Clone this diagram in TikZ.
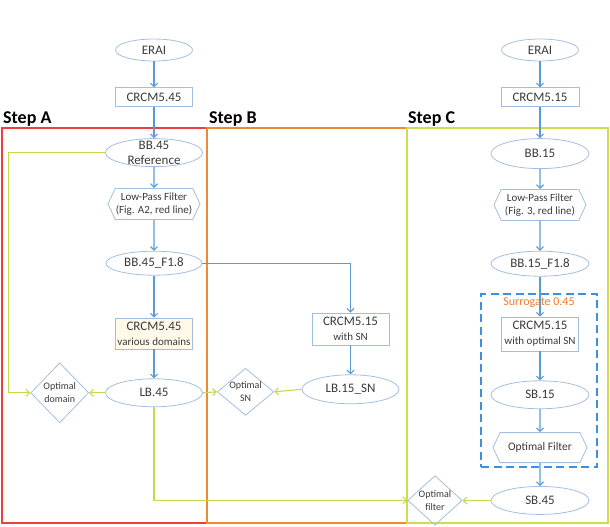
\documentclass[tikz,border=0pt]{standalone}
\usepackage{fontspec}
\setmainfont{Carlito}
\usetikzlibrary{positioning, calc, arrows.meta, shapes.geometric, shapes.symbols}

\definecolor{nodeline}{HTML}{A3BFDF}
\definecolor{flowblue}{HTML}{5B9BD5}
\definecolor{limeline}{HTML}{C8D84A}
\definecolor{framered}{HTML}{EE3E3E}
\definecolor{frameorange}{HTML}{EE8A36}
\definecolor{framelime}{HTML}{D0DC50}
\definecolor{dashblue}{HTML}{3F8FE0}
\definecolor{creamfill}{HTML}{FFF9EA}
\definecolor{txtgray}{HTML}{3A3A3A}
\definecolor{surrorange}{HTML}{ED7D31}

\begin{document}
\begin{tikzpicture}[
  x=1pt, y=1pt,
  >={Straight Barb[length=3.5pt, width=7pt]},
  font=\fontsize{13}{15}\selectfont, text=txtgray,
  oval/.style   = {draw=nodeline, line width=0.8pt, ellipse, inner sep=0pt, minimum width=97pt, minimum height=28pt},
  box/.style    = {draw=nodeline, line width=0.8pt, rectangle, inner sep=1pt, minimum width=77pt, minimum height=19pt, align=center},
  prep/.style   = {draw=nodeline, line width=0.8pt, signal, signal to=west and east, signal pointer angle=130, inner sep=0pt,
                   minimum width=92pt, minimum height=31pt, align=center, font=\fontsize{11}{13}\selectfont},
  choice/.style = {draw=nodeline, line width=0.8pt, diamond, inner sep=0pt, align=center, font=\fontsize{10}{13}\selectfont},
  frame/.style  = {rectangle, line width=1.6pt, anchor=north west, minimum height=395pt},
  steplabel/.style = {anchor=south west, inner sep=0pt, text=black, font=\fontsize{18}{20}\selectfont\bfseries},
  flow/.style   = {->, draw=flowblue, line width=1.1pt},
  pick/.style   = {->, draw=limeline, line width=1.1pt},
]
  \useasboundingbox (0,0) rectangle (610,-527);

  % step frames
  \node[frame, draw=framered,    minimum width=205pt] (frameA) at (1,-127)   {};
  \node[frame, draw=frameorange, minimum width=200pt] (frameB) at (206,-127) {};
  \node[frame, draw=framelime,   minimum width=201pt] (frameC) at (406,-127) {};
  \node[steplabel] (labA) at ([xshift=2pt]frameA.north west) {Step A};
  \node[steplabel] (labB) at ([xshift=3pt]frameB.north west) {Step B};
  \node[steplabel] (labC) at ([xshift=2pt]frameC.north west) {Step C};

  % step A column
  \node[oval, minimum width=77pt, minimum height=22pt] (eraiA) at (154,-50) {ERAI};
  \node[box,  below=26pt of eraiA]                       (crcmA)  {CRCM5.45};
  \node[oval, below=31pt of crcmA, label={[align=center]center:BB.45\\Reference}] (bbA) {};
  \node[prep, below=21pt of bbA]                         (lpfA)   {Low-Pass Filter\\(Fig. A2, red line)};
  \node[oval, below=31pt of lpfA, minimum width=96pt, minimum height=24pt] (bbfA) {BB.45\_F1.8};
  \node[box,  below=42pt of bbfA, fill=creamfill, minimum height=31pt] (crcmdA)
       {CRCM5.45\\{\fontsize{11}{13}\selectfont various domains}};
  \node[oval, below=29pt of crcmdA]                      (lbA)    {LB.45};
  \node[choice, left=16pt of lbA, minimum width=58pt, minimum height=60pt] (optdom) {Optimal\\domain};

  % step B column
  \node[box, minimum height=32pt] (crcmB) at (350.5,-329) {CRCM5.15\\{\fontsize{11}{13}\selectfont with SN}};
  \node[oval, below=29pt of crcmB, minimum height=29pt]  (lbB)    {LB.15\_SN};
  \node[choice, right=14pt of lbA, shape aspect=1.2, yshift=1pt] (optsn) {Optimal\\SN};

  % step C column
  \node[oval, minimum width=77pt, minimum height=22pt] (eraiC) at (540,-50) {ERAI};
  \node[box,  below=26pt of eraiC, minimum width=78pt]   (crcmC)  {CRCM5.15};
  \node[oval, below=31pt of crcmC, minimum width=98pt, minimum height=30pt] (bbC) {BB.15};
  \node[prep, below=20pt of bbC]                         (lpfC)   {Low-Pass Filter\\(Fig. 3, red line)};
  \node[oval, below=30pt of lpfC, minimum width=98pt, minimum height=25pt] (bbfC) {BB.15\_F1.8};
  \node[box,  below=40pt of bbfC, minimum height=34pt]   (crcmoC)
       {CRCM5.15\\{\fontsize{11}{13}\selectfont with optimal SN}};
  \node[oval, below=29pt of crcmoC, minimum width=98pt]  (sbC)    {SB.15};
  \node[prep, below=23pt of sbC, minimum width=94pt, minimum height=30pt,
        font=\fontsize{11.5}{13}\selectfont]             (optfC)  {Optimal Filter};
  \node[oval, below=23pt of optfC, minimum width=98pt]   (sbfC)   {SB.45};
  \node[choice, left=28pt of sbfC, shape aspect=1.1]     (optfil) {Optimal\\filter};

  % surrogate box
  \node[draw=dashblue, line width=2.5pt, dash pattern=on 8pt off 4.5pt, rectangle,
        minimum width=116pt, minimum height=173pt] (surbox) at (539,-380.5) {};
  \node[below=3.5pt of surbox.north, inner sep=1pt, text=surrorange,
        font=\fontsize{12}{14}\selectfont] (surtxt) {Surrogate 0.45};

  % blue flow
  \draw[flow] (eraiA)  -- (crcmA);
  \draw[flow] (crcmA)  -- (bbA);
  \draw[flow] (bbA)    -- (lpfA);
  \draw[flow] (lpfA)   -- (bbfA);
  \draw[flow] (bbfA)   -- (crcmdA);
  \draw[flow] (crcmdA) -- (lbA);
  \draw[flow] (bbfA.east) -| (crcmB.north);
  \draw[flow] (crcmB)  -- (lbB);
  \draw[flow] (eraiC)  -- (crcmC);
  \draw[flow] (crcmC)  -- (bbC);
  \draw[flow] (bbC)    -- (lpfC);
  \draw[flow] (lpfC)   -- (bbfC);
  \draw[flow] (bbfC)   -- (crcmoC);
  \draw[flow] (crcmoC) -- (sbC);
  \draw[flow] (sbC)    -- (optfC);
  \draw[flow] (optfC)  -- (sbfC);

  % lime selections
  \path (optdom.west) ++(-22,0) coordinate (railA);
  \draw[pick] (bbA.west) -| (railA) -- (optdom.west);
  \draw[pick] (lbA.west)  -- (optdom.east);
  \draw[pick] (lbA.east)  -- (optsn.west);
  \draw[pick] (lbB.west)  -- (optsn.east);
  \draw[pick] (lbA.south) |- (optfil.west);
  \draw[pick] (sbfC.west) -- (optfil.east);
\end{tikzpicture}
\end{document}
